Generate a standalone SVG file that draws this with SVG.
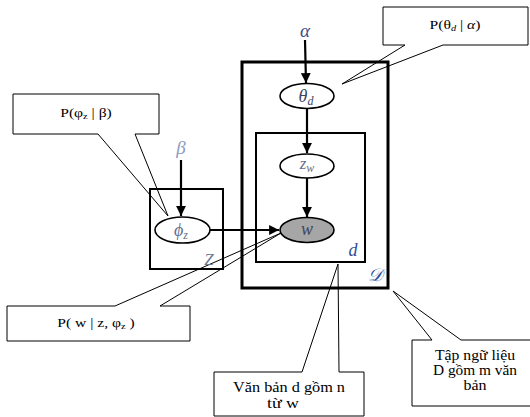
<svg xmlns="http://www.w3.org/2000/svg" width="530" height="417" viewBox="0 0 530 417">
<style>
.bg{fill:#fff}
.callout{fill:#fff;stroke:#000;stroke-width:1}
.ctext{font-family:"Liberation Serif",serif;font-size:12px;fill:#000;text-anchor:middle}
.btext{font-family:"Liberation Serif",serif;font-size:14px;fill:#000;text-anchor:middle}
.plateD{fill:none;stroke:#000;stroke-width:3}
.plate{fill:none;stroke:#000;stroke-width:2}
.node{fill:#fff;stroke:#000;stroke-width:1.6}
.obs{fill:#a6a6a6;stroke:#000;stroke-width:1.6}
.math{font-family:"Liberation Serif","DejaVu Serif",serif;font-style:italic;text-anchor:middle}
.edge{stroke:#000;stroke-width:2.2;fill:none;marker-end:url(#arr)}
</style>
<defs>
<marker id="arr" viewBox="0 0 10 10" refX="10" refY="5" markerWidth="4.5" markerHeight="4.5" markerUnits="strokeWidth" orient="auto">
<path d="M0,0 L10,5 L0,10 Z" fill="#000"/>
</marker>
</defs>
<rect class="bg" x="0" y="0" width="530" height="417"/>

<g id="callouts">
<g id="callout-phi">
<path class="callout" d="M13,94 H159 V134 H135 L168,216 L98,134 H13 Z"/>
<text class="ctext" transform="translate(86,117) scale(1.3,1)">P(φ<tspan font-size="8" dy="2">z</tspan><tspan dy="-2"> | β)</tspan></text>
</g>
<g id="callout-theta">
<path class="callout" d="M383,7 H528 V45 H443 L342,84 L405,45 H383 Z"/>
<text class="ctext" transform="translate(455,29) scale(1.3,1)">P(θ<tspan font-size="8" dy="2" font-style="italic">d</tspan><tspan dy="-2"> | </tspan><tspan font-style="italic">α</tspan>)</text>
</g>
<g id="callout-w">
<path class="callout" d="M7,306 H115 L281,233 L160,306 H190 V341 H7 Z"/>
<text class="ctext" transform="translate(96,327) scale(1.3,1)">P( w | z, φ<tspan font-size="8" dy="2">z</tspan><tspan dy="-2"> )</tspan></text>
</g>
<g id="callout-doc">
<path class="callout" d="M214,372 H302 L338,264 L339,372 H364 V416 H214 Z"/>
<text class="btext" x="289" y="392" textLength="112" lengthAdjust="spacingAndGlyphs">Văn bản d gồm n</text>
<text class="btext" x="283" y="408" textLength="32" lengthAdjust="spacingAndGlyphs">từ w</text>
</g>
<g id="callout-corpus">
<path class="callout" d="M412,340 H432 L393,291 L461,340 H540 V406 H412 Z"/>
<text class="btext" x="475" y="360" textLength="80" lengthAdjust="spacingAndGlyphs">Tập ngữ liệu</text>
<text class="btext" x="475" y="375" textLength="84" lengthAdjust="spacingAndGlyphs">D gồm m văn</text>
<text class="btext" x="475" y="390" textLength="23" lengthAdjust="spacingAndGlyphs">bản</text>
</g>
</g>

<g id="plates">
<g id="plate-D">
<rect class="plateD" x="242" y="62" width="146" height="226"/>
<text class="math" x="375" y="281" font-size="18" fill="#2f4f9a" font-family="'DejaVu Serif',serif">𝒟</text>
</g>
<g id="plate-d">
<rect class="plate" x="256" y="133" width="109" height="129"/>
<text class="math" x="353" y="256" font-size="18" fill="#2f4f9a">d</text>
</g>
<g id="plate-Z">
<rect class="plate" x="150" y="189" width="73" height="80"/>
<text class="math" x="209" y="265" font-size="17" fill="#6f7892">Z</text>
</g>
</g>

<g id="connectors">
<line class="edge" x1="305" y1="40" x2="306" y2="83"/>
<line class="edge" x1="181" y1="160" x2="181" y2="216"/>
<line class="edge" x1="307" y1="109" x2="307" y2="153"/>
<line class="edge" x1="307" y1="178" x2="307" y2="217"/>
<line class="edge" x1="210" y1="230" x2="279" y2="230"/>
</g>

<g id="alpha"><text class="math" x="305" y="37" font-size="19" fill="#3c4f86">α</text></g>
<g id="beta"><text class="math" x="181" y="154" font-size="19" fill="#8b9bc0">β</text></g>
<g id="theta">
<ellipse class="node" cx="307" cy="96" rx="27" ry="12.5"/>
<text class="math" x="306" y="102" font-size="18" fill="#3a4560">θ<tspan font-size="12" dy="3">d</tspan></text>
</g>
<g id="phi">
<ellipse class="node" cx="182.5" cy="230" rx="27.5" ry="13"/>
<text class="math" x="181" y="236" font-size="18" fill="#66708c">ϕ<tspan font-size="12" dy="3">z</tspan></text>
</g>
<g id="zw">
<ellipse class="node" cx="307" cy="166" rx="27" ry="12"/>
<text class="math" x="307" y="169" font-size="17" fill="#66708c">z<tspan font-size="12" dy="3">w</tspan></text>
</g>
<g id="w">
<ellipse class="obs" cx="307" cy="230" rx="27" ry="12.5"/>
<text class="math" x="307" y="235" font-size="18" fill="#3e4660">w</text>
</g>
</svg>
